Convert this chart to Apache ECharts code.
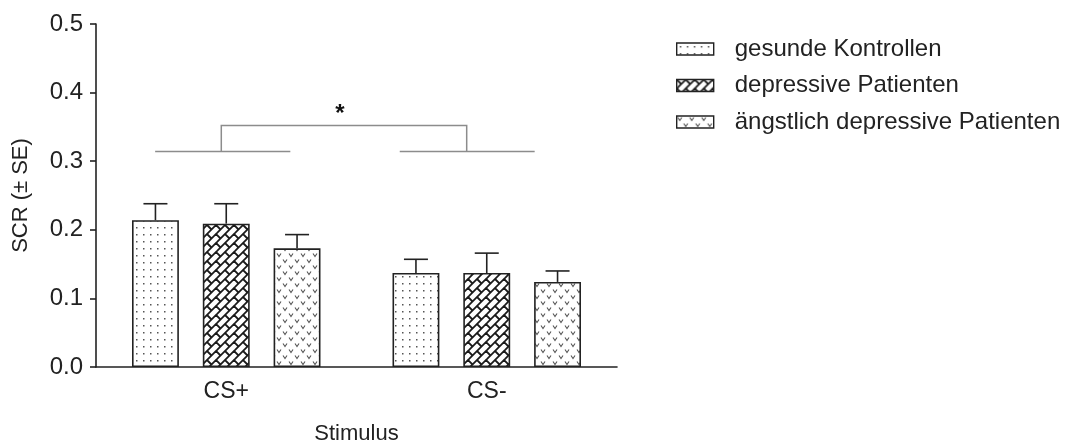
<!DOCTYPE html>
<html>
<head>
<meta charset="utf-8">
<script src="https://cdn.jsdelivr.net/npm/echarts/dist/echarts.min.js"></script>
<style>
  html, body { margin: 0; padding: 0; background: #fff; }
  #main { width: 1067px; height: 441px; }
</style>
</head>
<body>
<div id="main"></div>
<script>
// data
const categories = ["CS+", "CS-"];
const groupNames = ["gesunde Kontrollen", "depressive Patienten", "ängstlich depressive Patienten"];
const meanGesund = [0.214, 0.137];
const meanDepressiv = [0.209, 0.137];
const meanAengstlich = [0.173, 0.124];
const seGesund = [0.024, 0.020];
const seDepressiv = [0.029, 0.029];
const seAengstlich = [0.020, 0.016];
const yTicks = [0.0, 0.1, 0.2, 0.3, 0.4, 0.5];
const sigLevels = [0.314, 0.352]; // bracket base, bracket top
const sigLabel = "*";

const means = [meanGesund, meanDepressiv, meanAengstlich];
const errs = [seGesund, seDepressiv, seAengstlich];

// fill textures
function makeTile(w, h, draw) {
  const c = document.createElement("canvas");
  c.width = w;
  c.height = h;
  const ctx = c.getContext("2d");
  ctx.fillStyle = "#fff";
  ctx.fillRect(0, 0, w, h);
  draw(ctx);
  return { image: c, repeat: "repeat" };
}

const dotFill = makeTile(7, 7, function (ctx) {
  ctx.fillStyle = "#555";
  ctx.fillRect(3, 3, 1.5, 1.5);
});

// running-bond bricks along the "/" diagonal
const T = 18, S = 9;
const brickFill = makeTile(T, T, function (ctx) {
  ctx.strokeStyle = "#1a1a1a";
  ctx.lineWidth = 1.8;
  for (let c = -2 * T; c <= 3 * T; c += S) {
    ctx.beginPath();
    ctx.moveTo(c + 2 * T, -2 * T);
    ctx.lineTo(c - 2 * T, 2 * T);
    ctx.stroke();
    for (let a = -3 * T; a <= 3 * T; a += S) {
      ctx.beginPath();
      ctx.moveTo(a, c - a);
      ctx.lineTo(a + S / 2, c - a + S / 2);
      ctx.stroke();
    }
  }
});

const vFill = makeTile(12, 12, function (ctx) {
  ctx.strokeStyle = "#555";
  ctx.lineWidth = 1.1;
  [[3, 3], [9, 9]].forEach(function (p) {
    ctx.beginPath();
    ctx.moveTo(p[0] - 2, p[1] - 1.5);
    ctx.lineTo(p[0], p[1] + 1.5);
    ctx.lineTo(p[0] + 2, p[1] - 1.5);
    ctx.stroke();
  });
});

const fills = [dotFill, brickFill, vFill];

const BAR_W = 0.18;
const BAR_GAP = 0.51;

const barSeries = groupNames.map(function (name, i) {
  return {
    name: name,
    type: "bar",
    data: means[i],
    barWidth: BAR_W * 100 + "%",
    barGap: BAR_GAP * 100 + "%",
    itemStyle: { color: fills[i], borderColor: "#222", borderWidth: 1.6 },
    emphasis: { disabled: true },
    z: 2,
  };
});

const errSeries = groupNames.map(function (name, i) {
  return {
    type: "custom",
    data: categories.map(function (c, j) {
      return [j, means[i][j], means[i][j] + errs[i][j]];
    }),
    z: 3,
    renderItem: function (params, api) {
      const band = api.size([1, 0])[0];
      const off = (i - 1) * band * BAR_W * (1 + BAR_GAP);
      const base = api.coord([api.value(0), api.value(1)]);
      const top = api.coord([api.value(0), api.value(2)]);
      const x = base[0] + off;
      const cap = 12;
      const st = { stroke: "#222", lineWidth: 1.6 };
      return {
        type: "group",
        children: [
          { type: "line", shape: { x1: x, y1: base[1], x2: x, y2: top[1] }, style: st },
          { type: "line", shape: { x1: x - cap, y1: top[1], x2: x + cap, y2: top[1] }, style: st },
        ],
      };
    },
  };
});

const sigSeries = {
  type: "custom",
  data: [[0, 1]],
  z: 3,
  renderItem: function (params, api) {
    const band = api.size([1, 0])[0];
    const a = api.coord([api.value(0), sigLevels[0]]);
    const b = api.coord([api.value(1), sigLevels[0]]);
    const yTop = api.coord([0, sigLevels[1]])[1];
    const xa = a[0] - 0.019 * band;
    const xb = b[0] - 0.077 * band;
    const st = { stroke: "#8c8c8c", lineWidth: 1.5 };
    return {
      type: "group",
      children: [
        { type: "line", shape: { x1: a[0] - 0.273 * band, y1: a[1], x2: a[0] + 0.246 * band, y2: a[1] }, style: st },
        { type: "line", shape: { x1: b[0] - 0.334 * band, y1: b[1], x2: b[0] + 0.184 * band, y2: b[1] }, style: st },
        { type: "polyline", shape: { points: [[xa, a[1]], [xa, yTop], [xb, yTop], [xb, b[1]]] }, style: Object.assign({ fill: null }, st) },
        {
          type: "text",
          x: (xa + xb) / 2 - 4,
          y: yTop + 1,
          style: { text: sigLabel, fill: "#111", font: "bold 24px Liberation Sans", align: "center", verticalAlign: "bottom" },
        },
      ],
    };
  },
};

const chart = echarts.init(document.getElementById("main"));
chart.setOption({
  animation: false,
  backgroundColor: "#fff",
  textStyle: { fontFamily: "Liberation Sans, Arial, sans-serif" },
  grid: { left: 96, right: 450, top: 24, bottom: 74, outerBoundsMode: "none", containLabel: false },
  legend: {
    data: groupNames,
    orient: "vertical",
    left: 671,
    top: 31,
    itemWidth: 37,
    itemHeight: 12,
    itemGap: 10.5,
    icon: "rect",
    selectedMode: false,
    itemStyle: { borderColor: "#222", borderWidth: 1.4 },
    textStyle: { fontSize: 24, color: "#222", lineHeight: 26, padding: [0, 0, 0, 16] },
  },
  xAxis: {
    type: "category",
    data: categories,
    name: "Stimulus",
    nameLocation: "middle",
    nameGap: 56,
    nameTextStyle: { fontSize: 22, color: "#222" },
    axisLine: { lineStyle: { color: "#222", width: 1.6 } },
    axisTick: { alignWithLabel: true, length: 9, lineStyle: { color: "#222", width: 1.6 } },
    axisLabel: { fontSize: 23, color: "#222", margin: 13 },
  },
  yAxis: {
    type: "value",
    min: yTicks[0],
    max: yTicks[yTicks.length - 1],
    interval: 0.1,
    name: "SCR (\u00b1 SE)",
    nameLocation: "middle",
    nameGap: 64,
    nameTextStyle: { fontSize: 22, color: "#222" },
    axisLine: { show: true, lineStyle: { color: "#222", width: 1.6 } },
    axisTick: { show: true, length: 6, lineStyle: { color: "#222", width: 1.6 } },
    axisLabel: { fontSize: 24, color: "#222", margin: 13, formatter: function (v) { return v.toFixed(1); } },
    splitLine: { show: false },
  },
  series: barSeries.concat(errSeries, [sigSeries]),
});
</script>
</body>
</html>
